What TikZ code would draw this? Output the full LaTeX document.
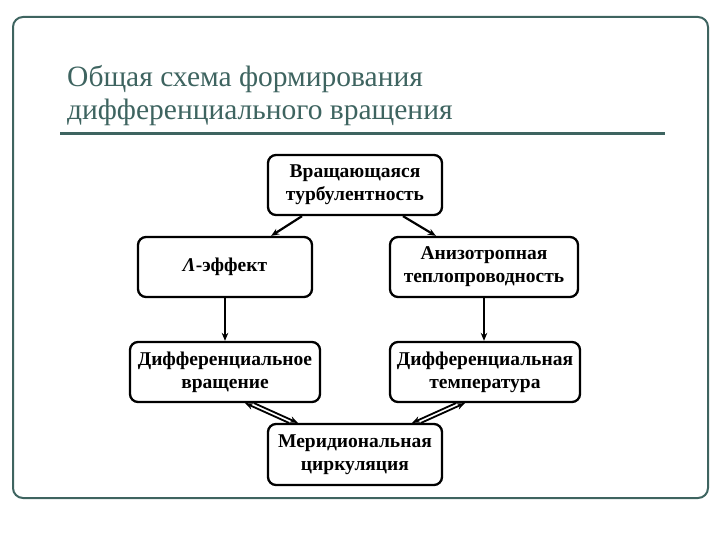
\documentclass[tikz,border=0pt]{standalone}
\usepackage{fontspec}
\setmainfont{Liberation Serif}
\usetikzlibrary{arrows.meta,calc}
\definecolor{teal1}{RGB}{62,100,96}
\begin{document}
\begin{tikzpicture}[x=1pt,y=-1pt,
  box/.style={draw, line width=2.3pt, rounded corners=8pt, align=center, inner sep=0pt,
    minimum height=60pt, font=\fontsize{19.5}{23}\selectfont\bfseries},
  arr/.style={line width=1.8pt, -{Stealth[length=8pt,width=6.5pt]}}]
\useasboundingbox (0,0) rectangle (720,540);
\draw[teal1, line width=2pt, rounded corners=10pt] (13,17) rectangle (708,498);
\node[anchor=base west, text=teal1, font=\fontsize{29.5}{33}\selectfont, align=left, inner sep=0pt] (title) at (67,120)
  {Общая схема формирования\\дифференциального вращения};
\draw[teal1, line width=3pt] (60,133.5) coordinate (r1) -- (665,133.5) coordinate (r2);
\node[box, minimum width=174pt] (top) at (355,185) {Вращающаяся\\турбулентность};
\node[box, minimum width=174pt] (lam) at (225,267) {{\itshape Λ}-эффект};
\node[box, minimum width=188pt] (ani) at (484,267) {Анизотропная\\теплопроводность};
\node[box, minimum width=190pt] (drot) at (225,372) {Дифференциальное\\вращение};
\node[box, minimum width=190pt] (dtemp) at (485,372) {Дифференциальная\\температура};
\node[box, minimum width=174pt, minimum height=61pt] (mer) at (355,454.5) {Меридиональная\\циркуляция};
\draw[arr, line width=2.2pt] ($(top.south)+(-53,0)$) -- ($(lam.north east)+(-42,0)$);
\draw[arr, line width=2.2pt] ($(top.south)+(48,0)$) -- ($(ani.north west)+(47,0)$);
\draw[arr, line width=1.4pt] (lam.south) -- (lam.south |- drot.north);
\draw[arr, line width=1.4pt] (ani.south) -- (ani.south |- dtemp.north);
\draw[arr] ($(mer.north west)+(22,0)$) -- ($(drot.south east)+(-76,0)$);
\draw[arr] ($(drot.south east)+(-67,0)$) -- ($(mer.north west)+(31,0)$);
\draw[arr] ($(mer.north east)+(-22,0)$) -- ($(dtemp.south west)+(76,0)$);
\draw[arr] ($(dtemp.south west)+(67,0)$) -- ($(mer.north east)+(-31,0)$);
\end{tikzpicture}
\end{document}
